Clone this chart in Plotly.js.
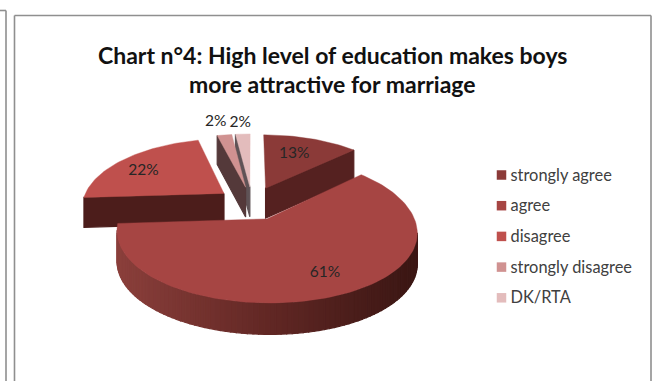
<!DOCTYPE html>
<html>
<head>
<meta charset="utf-8">
<script src="https://cdn.plot.ly/plotly-3.0.1.min.js"></script>
<style>html,body{margin:0;padding:0;background:#fff}#chart{width:656px;height:381px}</style>
</head>
<body>
<div id="chart"></div>
<script>
// Survey answers, in percent
const categories = ['strongly agree', 'agree', 'disagree', 'strongly disagree', 'DK/RTA'];
const shares = [13, 61, 22, 2, 2];

// Slice colours: top face and side wall
const topColors = ['#8b3a38', '#a64543', '#bf504d', '#d09291', '#e3bcbc'];
const wallColors = ['#552120', '#5c2522', '#4c1d1b', '#54393a', '#5f5356'];
const titleLines = ['Chart n°4: High level of education makes boys', 'more attractive for marriage'];

// Projection of the exploded disc onto the page
const view = { cx: 252, cy: 203, rx: 142, ry: 67, persp: 0.17, perspNear: 0.143, depth: 30, explode: 0.25 };

// Label placement along each slice's radius, with small page offsets
const labelRadius = [0.62, 0.74, 0.74, 1.27, 1.27];
const labelNudge = [[-1, -2], [7, 0], [-5, 4], [-4, -1], [-1, 1]];

const legendPos = { swatchX: 501.5, textX: 510.5, top: 175, step: 30.7, textDrop: 1.5 };

function project(u, v, drop) {
  const s = 1 / (1 + view.persp * v);
  const sy = v < 0 ? 1 / (1 + view.perspNear * v) : s;
  return [view.cx + view.rx * u * s,
          view.cy - view.ry * v * sy + (drop ? view.depth * Math.pow(s, 0.2) : 0)];
}

function mixColor(a, b, t) {
  const pa = [1, 3, 5].map(i => parseInt(a.substr(i, 2), 16));
  const pb = [1, 3, 5].map(i => parseInt(b.substr(i, 2), 16));
  return 'rgb(' + pa.map((c, i) => Math.round(c + (pb[i] - c) * t)).join(',') + ')';
}

function polygon(points, color, edge) {
  const closed = points.concat([points[0]]);
  return {
    type: 'scatter', mode: 'lines', fill: 'toself', fillcolor: color,
    x: closed.map(p => p[0]), y: closed.map(p => p[1]),
    line: { color: color, width: edge }, hoverinfo: 'skip', showlegend: false
  };
}

const total = shares.reduce((a, b) => a + b, 0);
const traces = [];
const labelX = [], labelY = [], labelText = [];
const slices = [];
let running = 0;

shares.forEach((share, i) => {
  const a0 = running / total * 2 * Math.PI;
  running += share;
  const a1 = running / total * 2 * Math.PI;
  const mid = (a0 + a1) / 2;
  const ox = view.explode * Math.sin(mid), oy = view.explode * Math.cos(mid);
  const steps = Math.max(4, Math.round(share * 2));
  const rim = [];
  for (let k = 0; k <= steps; k++) {
    const a = a0 + (a1 - a0) * k / steps;
    rim.push([ox + Math.sin(a), oy + Math.cos(a)]);
  }
  const outline = [[ox, oy]].concat(rim);
  slices.push({ i, outline, backness: oy });

  const lr = labelRadius[i];
  const lp = project(ox + lr * Math.sin(mid), oy + lr * Math.cos(mid), false);
  labelX.push(lp[0] + labelNudge[i][0]);
  labelY.push(lp[1] + labelNudge[i][1]);
  labelText.push(Math.round(share) + '%');
});

// Slices nearest the back are painted first
slices.sort((p, q) => q.backness - p.backness);

slices.forEach(({ i, outline }) => {
  const n = outline.length;
  for (let k = 0; k < n; k++) {
    const A = outline[k], B = outline[(k + 1) % n];
    const pa = project(A[0], A[1], false), pb = project(B[0], B[1], false);
    // The perimeter runs clockwise on the page, so leftward edges face the viewer;
    // a nearly vertical edge would only leave a hairline, so it is skipped
    const run = pb[0] - pa[0];
    if (run >= 0 || (Math.abs(pb[1] - pa[1]) > 20 && run > -3)) continue;
    let color = wallColors[i];
    if (i === 1 && k > 0 && k < n - 1) {
      // The large slice's curved wall darkens from left to right
      const t = Math.min(1, Math.max(0, (pa[0] - 120) / 290));
      color = t < 0.5 ? mixColor('#8a3f3b', '#632825', t * 2)
                      : mixColor('#632825', '#3c1714', (t - 0.5) * 2);
    }
    traces.push(polygon([pa, pb, project(B[0], B[1], true), project(A[0], A[1], true)], color, 1.2));
  }
  traces.push(polygon(outline.map(p => project(p[0], p[1], false)), topColors[i], 0.4));
});

// Percentage labels
traces.push({
  type: 'scatter', mode: 'text', x: labelX, y: labelY, text: labelText,
  textposition: 'middle center', cliponaxis: false, hoverinfo: 'skip', showlegend: false,
  textfont: { family: 'Lato, sans-serif', size: 15.5, color: '#262626' }
});

// Key on the right: one swatch and name per answer
const keyY = categories.map((_, i) => legendPos.top + i * legendPos.step);
traces.push({
  type: 'scatter', mode: 'markers', x: categories.map(() => legendPos.swatchX), y: keyY,
  cliponaxis: false, hoverinfo: 'skip', showlegend: false,
  marker: { symbol: 'square', size: 9.5, color: topColors, line: { width: 0 } }
});
traces.push({
  type: 'scatter', mode: 'text', x: categories.map(() => legendPos.textX),
  y: keyY.map(y => y + legendPos.textDrop),
  text: categories, textposition: 'middle right', cliponaxis: false, hoverinfo: 'skip', showlegend: false,
  textfont: { family: 'Lato, sans-serif', size: 16.4, color: '#404040' }
});

const frame = (x0, y0, x1, y1) => ({
  type: 'line', xref: 'x', yref: 'y', x0, y0, x1, y1, line: { color: '#8f8f8f', width: 1.6 }
});

const layout = {
  width: 656, height: 381,
  margin: { l: 0, r: 0, t: 0, b: 0 },
  paper_bgcolor: '#ffffff', plot_bgcolor: '#ffffff',
  showlegend: false,
  xaxis: { range: [0, 656], visible: false, fixedrange: true },
  yaxis: { range: [381, 0], visible: false, fixedrange: true },
  shapes: [
    frame(0, 10.5, 6, 10.5), frame(6, 10.5, 6, 381),
    frame(14.5, 15.5, 651, 15.5), frame(14.5, 15.5, 14.5, 381), frame(651, 15.5, 651, 381)
  ],
  annotations: titleLines.map((line, i) => ({
    text: '<b>' + line + '</b>', xref: 'x', yref: 'y', x: 332.5, y: 55 + i * 29,
    showarrow: false, xanchor: 'center', yanchor: 'middle',
    font: { family: 'Lato, sans-serif', size: 23, color: '#111111' }
  }))
};

Plotly.newPlot('chart', traces, layout, { staticPlot: true, displayModeBar: false });
</script>
</body>
</html>
